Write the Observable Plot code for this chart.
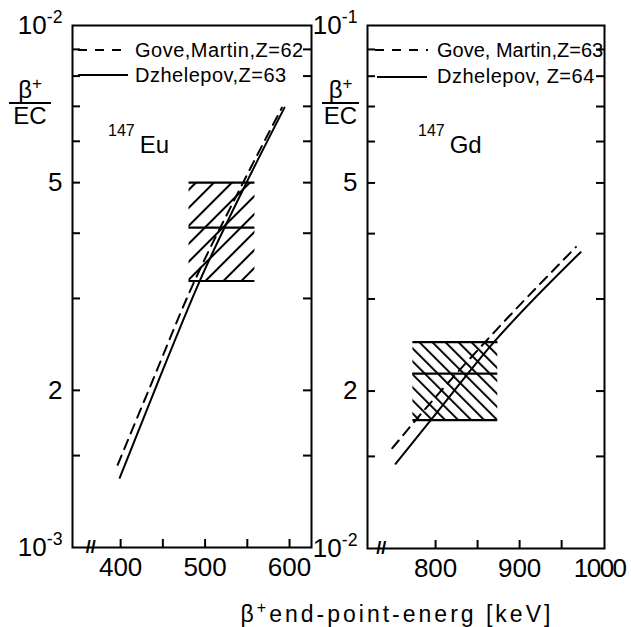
<!DOCTYPE html>
<html><head><meta charset="utf-8">
<script src="https://cdn.jsdelivr.net/npm/d3@7"></script>
<script src="https://cdn.jsdelivr.net/npm/@observablehq/plot@0.6"></script>
<style>
body{margin:0;background:#fff;font-family:"Liberation Sans",Arial,sans-serif;color:#000;}
#root{position:relative;width:631px;height:627px;overflow:hidden;}
.abs{position:absolute;white-space:nowrap;}
.leg{font-size:20px;line-height:20px;letter-spacing:0.5px;}
.frac{text-align:center;font-size:24px;line-height:24px;}
.frac sup,.iso sup,.xt sup{line-height:0;}
</style></head><body><div id="root"></div>
<script>
// ---------- data ----------
// 147Eu panel
const euGoveE = [396.5, 438, 481, 545, 591];
const euGoveR = [1.44e-3, 2.09e-3, 3.07e-3, 5.0e-3, 6.96e-3];
const euDzhE  = [399, 445, 494, 549, 594];
const euDzhR  = [1.36e-3, 2.09e-3, 3.25e-3, 5.0e-3, 6.96e-3];
const euMeasE = [481, 559];
const euMeasR = [3.24e-3, 4.1e-3, 5.0e-3];
const euXLabels = [400, 500, 600];
const euXTicks = [400, 450, 500, 550, 600];
const euYLabels = [1e-3, 2e-3, 5e-3, 1e-2];
const euYLabelText = ["10^-3", "2", "5", "10^-2"];
const euYTicks = [1.5e-3, 2e-3, 3e-3, 4e-3, 5e-3, 6e-3, 7e-3, 8e-3, 9e-3];
const euBreak = [364.5];
// 147Gd panel
const gdGoveE = [748.5, 776, 873.5, 967];
const gdGoveR = [1.555e-2, 1.757e-2, 2.63e-2, 3.77e-2];
const gdDzhE  = [752.4, 794, 869.4, 972.6];
const gdDzhR  = [1.452e-2, 1.757e-2, 2.48e-2, 3.686e-2];
const gdMeasE = [773, 874];
const gdMeasR = [1.76e-2, 2.16e-2, 2.48e-2];
const gdXLabels = [800, 900, 1000];
const gdXTicks = [800, 850, 900, 950];
const gdYLabels = [1e-2, 2e-2, 5e-2, 1e-1];
const gdYLabelText = ["10^-2", "2", "5", "10^-1"];
const gdYTicks = [1.5e-2, 2e-2, 3e-2, 4e-2, 5e-2, 6e-2, 7e-2, 8e-2, 9e-2];
const gdBreak = [735.5];
// text
const legendEu = ["Gove,Martin,Z=62", "Dzhelepov,Z=63"];
const legendGd = ["Gove, Martin,Z=63", "Dzhelepov, Z=64"];
const xTitle = "end-point-energ [keV]";

const root = document.getElementById("root");
const zip = (E, R) => E.map((e, i) => ({e, r: R[i]}));

function panel(o) {
  const W = o.width, H = o.height;
  const fw = W - o.ml - o.mr, fh = H - o.mt - o.mb;
  const lab = new Map(o.yLabels.map((t, i) => [t, o.yLabelText[i]]));
  const box = [{e1: o.measE[0], e2: o.measE[1], lo: o.measR[0], hi: o.measR[o.measR.length - 1]}];
  const svg = Plot.plot({
    width: W, height: H,
    marginLeft: o.ml, marginRight: o.mr, marginTop: o.mt, marginBottom: o.mb,
    x: {domain: o.xDomain},
    y: {type: "log", domain: o.yDomain},
    style: {fontFamily: "'Liberation Sans', Arial, sans-serif", fontSize: "26px", background: "transparent", color: "#000", overflow: "visible"},
    marks: [
      Plot.rect(box, {x1: "e1", x2: "e2", y1: "lo", y2: "hi", fill: `url(#${o.pattern})`}),
      Plot.ruleY(o.measR, {y: d => d, x1: o.measE[0], x2: o.measE[1], strokeWidth: 2.2}),
      Plot.line(zip(o.goveE, o.goveR), {x: "e", y: "r", curve: "monotone-x", strokeWidth: 2, strokeDasharray: "10,7"}),
      Plot.line(zip(o.dzhE, o.dzhR), {x: "e", y: "r", curve: "monotone-x", strokeWidth: 2}),
      Plot.tickX(o.xTicks, {x: d => d, insetTop: fh - 8, strokeWidth: 2}),
      Plot.tickY(o.yTicks, {y: d => d, insetRight: fw - 8, strokeWidth: 2}),
      Plot.tickY(o.yTicks, {y: d => d, insetLeft: fw - 8, strokeWidth: 2}),
      Plot.axisX({ticks: o.xLabels, tickSize: 0, tickPadding: 10, label: null, tickFormat: d => String(d)}),
      Plot.axisY({ticks: o.yLabels, tickSize: 0, tickPadding: 10, label: null, tickFormat: d => lab.get(d)}),
      Plot.frame({strokeWidth: 2}),
      Plot.text(o.brk, {x: d => d, y: o.yDomain[0], text: () => "//", fontSize: 18, fontWeight: "bold"})
    ]
  });
  // hatch pattern
  const defs = document.createElementNS("http://www.w3.org/2000/svg", "defs");
  defs.innerHTML = `<pattern id="${o.pattern}" patternUnits="userSpaceOnUse" width="${o.hatch}" height="${o.hatch}" patternTransform="rotate(${o.angle})"><line x1="1" y1="0" x2="1" y2="${o.hatch}" stroke="#000" stroke-width="2"/></pattern>`;
  svg.insertBefore(defs, svg.firstChild);
  // superscripts in tick labels; tighten the wide "1000" label at the right edge
  svg.querySelectorAll("text").forEach(t => {
    const s = t.textContent;
    if (s === "1000") { t.setAttribute("dx", "-4"); t.style.letterSpacing = "-1.5px"; return; }
    const k = s.indexOf("^");
    if (k < 0) return;
    t.textContent = s.slice(0, k);
    const ts = document.createElementNS("http://www.w3.org/2000/svg", "tspan");
    ts.setAttribute("dy", "-0.6em");
    ts.setAttribute("font-size", "0.68em");
    ts.textContent = s.slice(k + 1);
    t.appendChild(ts);
  });
  svg.style.position = "absolute";
  svg.style.left = o.left + "px";
  svg.style.top = "0px";
  root.appendChild(svg);
}

panel({left: 0, width: 320, height: 587, ml: 72, mr: 9, mt: 25, mb: 40,
  xDomain: [343, 626], yDomain: [1e-3, 1e-2],
  goveE: euGoveE, goveR: euGoveR, dzhE: euDzhE, dzhR: euDzhR,
  measE: euMeasE, measR: euMeasR, xLabels: euXLabels, xTicks: euXTicks,
  yLabels: euYLabels, yLabelText: euYLabelText, yTicks: euYTicks, brk: euBreak,
  pattern: "hatchEu", hatch: 12.7, angle: 45});

panel({left: 310, width: 321, height: 588, ml: 57, mr: 27, mt: 25, mb: 40,
  xDomain: [719, 1001], yDomain: [1e-2, 1e-1],
  goveE: gdGoveE, goveR: gdGoveR, dzhE: gdDzhE, dzhR: gdDzhR,
  measE: gdMeasE, measR: gdMeasR, xLabels: gdXLabels, xTicks: gdXTicks,
  yLabels: gdYLabels, yLabelText: gdYLabelText, yTicks: gdYTicks, brk: gdBreak,
  pattern: "hatchGd", hatch: 9.2, angle: -45});

// ---------- overlays: legends, labels ----------
function add(html) { root.insertAdjacentHTML("beforeend", html); }
function swatch(left, y, w, dashed) {
  add(`<svg class="abs" style="left:${left}px;top:${y - 5}px" width="${w}" height="10"><line x1="0" x2="${w}" y1="5" y2="5" stroke="#000" stroke-width="2" ${dashed ? 'stroke-dasharray="9,8"' : ""}/></svg>`);
}
swatch(78, 50, 50, true);
swatch(78, 75, 50, false);
add(`<div class="abs leg" style="left:135px;top:40px">${legendEu[0]}</div>`);
add(`<div class="abs leg" style="left:135px;top:65px">${legendEu[1]}</div>`);
swatch(375, 50, 53, true);
swatch(377, 77, 50, false);
add(`<div class="abs leg" style="left:437px;top:40px;letter-spacing:0px">${legendGd[0]}</div>`);
add(`<div class="abs leg" style="left:437px;top:66px">${legendGd[1]}</div>`);

// y-axis ratio labels
function frac(left, w) {
  add(`<div class="abs frac" style="left:${left}px;top:78px;width:${w}px"><div>β<sup style="font-size:17px;vertical-align:9px">+</sup></div><div style="border-top:2px solid #000">EC</div></div>`);
}
frac(9, 42);
frac(322, 37);

// isotope labels
add(`<div class="abs iso" style="left:108px;top:131px;font-size:24px;line-height:25px"><sup style="font-size:16px;vertical-align:17px;margin-right:5px">147</sup>Eu</div>`);
add(`<div class="abs iso" style="left:418px;top:131px;font-size:24px;line-height:25px"><sup style="font-size:16px;vertical-align:17px;margin-right:5px">147</sup>Gd</div>`);

// x title
add(`<div class="abs xt" style="left:397px;top:603px;transform:translateX(-50%);font-size:23px;line-height:23px;letter-spacing:3px">β<sup style="font-size:16px;vertical-align:9px">+</sup>${xTitle}</div>`);
</script></body></html>
